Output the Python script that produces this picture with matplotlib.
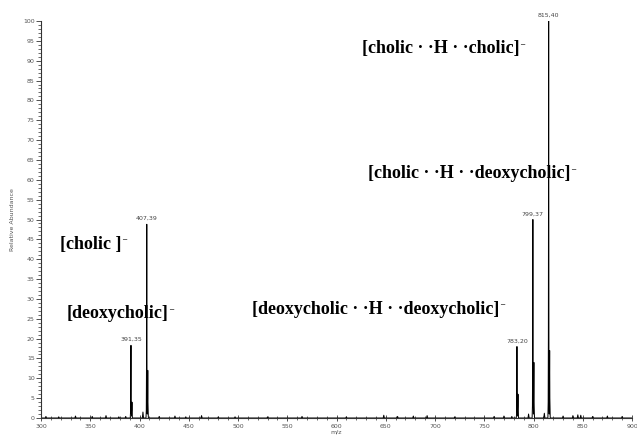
import numpy as np
import matplotlib.pyplot as plt
from matplotlib.ticker import MultipleLocator

# Profile points around each labelled peak (m/z, relative abundance)
mz_391 = [390.6, 390.9, 391.1, 391.25, 391.35, 391.45, 391.6, 391.9, 392.2, 392.35, 392.5, 392.8]
ab_391 = [0, 1.5, 8, 14, 18.3, 11, 3, 0.5, 2, 4, 1.5, 0]

mz_407 = [406.6, 406.9, 407.1, 407.25, 407.39, 407.5, 407.65, 407.95, 408.2, 408.4, 408.6, 409.0]
ab_407 = [0, 2, 13, 43, 48.8, 30, 6, 1, 5, 12, 4, 0]

mz_783 = [782.5, 782.8, 783.0, 783.1, 783.2, 783.3, 783.45, 783.8, 784.1, 784.25, 784.4, 784.8]
ab_783 = [0, 1, 6, 12.5, 18, 10, 3, 0.5, 3, 6, 2, 0]

mz_799 = [798.6, 798.9, 799.1, 799.25, 799.37, 799.5, 799.65, 799.95, 800.2, 800.4, 800.6, 801.0]
ab_799 = [0, 3, 15, 40, 50, 30, 6, 1, 8, 14, 4, 0]

mz_815 = [814.6, 814.9, 815.1, 815.25, 815.40, 815.55, 815.7, 816.0, 816.2, 816.4, 816.6, 817.0]
ab_815 = [0, 4, 20, 84, 100, 47, 8, 1, 9, 17, 5, 0]

# small baseline bumps
noise_mz = [305, 318, 335, 352, 366, 379, 386, 403.5, 420, 436, 447, 463, 480, 497, 530,
            565, 610, 648, 662, 678, 692, 720, 760, 770, 778, 795, 811, 830, 840, 845,
            848, 860, 875, 890]
noise_ab = [0.4, 0.3, 0.5, 0.4, 0.6, 0.3, 0.4, 1.5, 0.4, 0.5, 0.3, 0.6, 0.3, 0.3, 0.3,
            0.4, 0.3, 0.7, 0.4, 0.5, 0.6, 0.3, 0.4, 0.5, 0.4, 1.0, 1.2, 0.5, 0.6, 0.8,
            0.7, 0.4, 0.5, 0.4]

# peak labels
label_mz = [391.35, 407.39, 783.20, 799.37, 815.40]
label_ab = [18.3, 48.8, 18, 50, 100]
label_txt = ["391,35", "407,39", "783,20", "799,37", "815,40"]

# ion annotations: text, left x (m/z), centre y (abundance)
ion_txt = ["[cholic \u00b7 \u00b7H \u00b7 \u00b7cholic]",
           "[cholic \u00b7 \u00b7H \u00b7 \u00b7deoxycholic]",
           "[cholic ]",
           "[deoxycholic]",
           "[deoxycholic \u00b7 \u00b7H \u00b7 \u00b7deoxycholic]"]
ion_x = [626, 632, 319, 326, 514]
ion_y = [93, 61.5, 43.8, 26.2, 27.3]

# assemble the spectrum
pts = [(300, 0), (900, 0)]
for m, a in zip(noise_mz, noise_ab):
    pts += [(m - 0.6, 0), (m, a), (m + 0.6, 0)]
for mzs, abs_ in [(mz_391, ab_391), (mz_407, ab_407), (mz_783, ab_783),
                  (mz_799, ab_799), (mz_815, ab_815)]:
    pts += list(zip(mzs, abs_))
pts.sort()
mz = np.array([p[0] for p in pts])
ab = np.array([p[1] for p in pts])

fig = plt.figure(figsize=(6.37, 4.43), dpi=100)
ax = fig.add_axes([41 / 637, 25 / 443, 591 / 637, 397 / 443])
ax.plot(mz, ab, color="black", lw=0.7)

ax.set_xlim(300, 900)
ax.set_ylim(0, 100)
ax.spines["top"].set_visible(False)
ax.spines["right"].set_visible(False)
for s in ["left", "bottom"]:
    ax.spines[s].set_linewidth(0.8)
    ax.spines[s].set_color("#333333")

ax.xaxis.set_major_locator(MultipleLocator(50))
ax.xaxis.set_minor_locator(MultipleLocator(10))
ax.yaxis.set_major_locator(MultipleLocator(5))
ax.yaxis.set_minor_locator(MultipleLocator(1))
ax.tick_params(axis="x", which="major", direction="inout", length=4, width=0.6,
               labelsize=4.5, labelcolor="#555555", color="#333333", pad=2)
ax.tick_params(axis="x", which="minor", direction="inout", length=2.5, width=0.5, color="#333333")
ax.tick_params(axis="y", which="major", direction="out", length=3.5, width=0.6,
               labelsize=4.5, labelcolor="#555555", color="#333333", pad=1)
ax.tick_params(axis="y", which="minor", direction="out", length=2, width=0.5, color="#333333")

ax.set_xlabel("m/z", fontsize=4.5, color="#555555", labelpad=1)
ax.set_ylabel("Relative Abundance", fontsize=4.5, color="#555555", labelpad=6)

for m, a, t in zip(label_mz, label_ab, label_txt):
    ax.text(m, a + 0.8, t, fontsize=4.5, color="#444444", ha="center", va="bottom", clip_on=False)

for t, x, y in zip(ion_txt, ion_x, ion_y):
    txt = ax.text(x, y, t, fontsize=13, fontweight="bold", ha="left", va="center",
                  family="Liberation Serif")
    # small raised minus after the closing bracket
    ax.annotate("\u2013", xy=(1, 1), xycoords=txt, xytext=(0.5, -2.5),
                textcoords="offset points", fontsize=6, fontweight="bold",
                ha="left", va="center", family="Liberation Serif")

fig.savefig("out.png", dpi=100)
